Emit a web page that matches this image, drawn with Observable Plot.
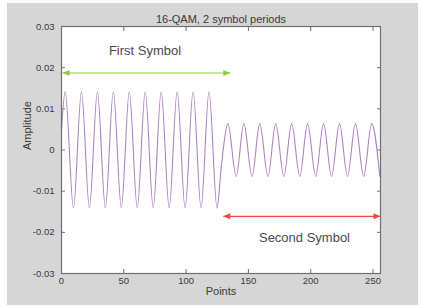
<!DOCTYPE html>
<html><head><meta charset="utf-8">
<script src="https://cdn.jsdelivr.net/npm/d3@7"></script>
<script src="https://cdn.jsdelivr.net/npm/@observablehq/plot@0.6"></script>
<style>
html,body{margin:0;padding:0;background:#fff;}
#wrap{position:relative;width:425px;height:308px;}
#bg{position:absolute;left:7px;top:3px;width:411px;height:302px;background:#d6d6d6;}
#chart{position:absolute;left:0;top:0;}
</style></head>
<body><div id="wrap"><div id="bg"></div><div id="chart"></div></div>
<script>
// Signal extrema (points, amplitude)
const sym1X = [0, 3.0, 9.6, 16.0, 22.4, 28.8, 35.2, 41.6, 48.0, 54.4, 60.8, 67.2, 73.6, 80.0, 86.4, 92.8, 99.2, 105.6, 112.0, 118.4, 124.8, 128.2];
const sym1Y = [0.0047, 0.0142, -0.0141, 0.0142, -0.0141, 0.0142, -0.0141, 0.0142, -0.0141, 0.0142, -0.0141, 0.0142, -0.0141, 0.0142, -0.0141, 0.0142, -0.0141, 0.0142, -0.0141, 0.0142, -0.0141, -0.0042];
const sym2X = [133.5, 140.2, 146.3, 152.9, 159.1, 165.7, 171.9, 178.4, 184.7, 191.2, 197.5, 204.0, 210.3, 216.7, 223.1, 229.5, 235.9, 242.5, 248.9, 255.5];
const sym2Y = [0.0064, -0.0064, 0.0064, -0.0064, 0.0064, -0.0064, 0.0064, -0.0064, 0.0064, -0.0064, 0.0064, -0.0064, 0.0064, -0.0064, 0.0064, -0.0064, 0.0064, -0.0064, 0.0064, -0.0064];

const xTicks = [0, 50, 100, 150, 200, 250];
const xTickLabels = ["0", "50", "100", "150", "200", "250"];
const yTicks = [-0.03, -0.02, -0.01, 0, 0.01, 0.02, 0.03];
const yTickLabels = ["-0.03", "-0.02", "-0.01", "0", "0.01", "0.02", "0.03"];

const arrowNames = ["First Symbol", "Second Symbol"];
const arrowX1 = [0.8, 129.8];
const arrowX2 = [135.5, 256];
const arrowY = [0.0187, -0.0161];
const arrowColors = ["#92c83e", "#f04a40"];
const labelX = [67, 195];
const labelY = [0.0242, -0.0213];

const titleText = "16-QAM, 2 symbol periods";
const xLabel = "Points";
const yLabel = "Amplitude";

const signal = sym1X.map((x, i) => ({x, y: sym1Y[i]}))
  .concat(sym2X.map((x, i) => ({x, y: sym2Y[i]})));
const arrows = arrowNames.map((name, i) => ({name, x1: arrowX1[i], x2: arrowX2[i], y: arrowY[i], color: arrowColors[i], lx: labelX[i], ly: labelY[i]}));

function tri(color, context) {
  const m = d3.create("svg:marker")
    .attr("viewBox", "-8 -5 10 10")
    .attr("markerWidth", 10)
    .attr("markerHeight", 10)
    .attr("markerUnits", "userSpaceOnUse")
    .attr("orient", "auto-start-reverse")
    .attr("fill", color)
    .attr("stroke", "none");
  m.append("path").attr("d", "M-7,-3L0,0L-7,3Z");
  return m.node();
}

const fmtX = d => xTickLabels[xTicks.indexOf(d)];
const fmtY = d => yTickLabels[yTicks.findIndex(v => Math.abs(v - d) < 1e-9)];
const axisCol = "#707070";

const plot = Plot.plot({
  width: 425, height: 308,
  marginLeft: 61, marginRight: 45, marginTop: 26, marginBottom: 35,
  style: {background: "transparent", fontFamily: "'Liberation Sans', Arial, sans-serif", fontSize: "9.5px", color: "#3a3a3a"},
  x: {domain: [0, 256]},
  y: {domain: [-0.03, 0.03]},
  marks: [
    Plot.frame({fill: "white", stroke: "none"}),
    Plot.axisX(xTicks, {anchor: "bottom", tickSize: -4, tickPadding: 8, tickFormat: fmtX, label: null, stroke: axisCol}),
    Plot.axisX(xTicks, {anchor: "top", tickSize: -4, tickFormat: () => "", label: null, stroke: axisCol}),
    Plot.axisY(yTicks, {anchor: "left", tickSize: -4, tickPadding: 11, tickFormat: fmtY, label: null, stroke: axisCol}),
    Plot.axisY(yTicks, {anchor: "right", tickSize: -4, tickFormat: () => "", label: null, stroke: axisCol}),
    Plot.line(signal, {x: "x", y: "y", curve: "monotone-x", stroke: "#b080c6", strokeWidth: 1.1}),
    Plot.link(arrows, {x1: "x1", x2: "x2", y1: "y", y2: "y", stroke: "color", strokeWidth: 1.2, markerStart: tri, markerEnd: tri}),
    Plot.text(arrows, {x: "lx", y: "ly", text: "name", fontSize: 13, fill: "#4a4a4a"}),
    Plot.frame({stroke: axisCol, strokeWidth: 1.2}),
    Plot.text([titleText], {frameAnchor: "top", dy: -11, fontSize: 11, fill: "#3a3a3a"}),
    Plot.text([xLabel], {frameAnchor: "bottom", dy: 21, fontSize: 11, fill: "#3a3a3a"}),
    Plot.text([yLabel], {frameAnchor: "left", dx: -34, rotate: -90, fontSize: 11, fill: "#3a3a3a"})
  ]
});
document.getElementById("chart").appendChild(plot);
</script>
</body></html>
